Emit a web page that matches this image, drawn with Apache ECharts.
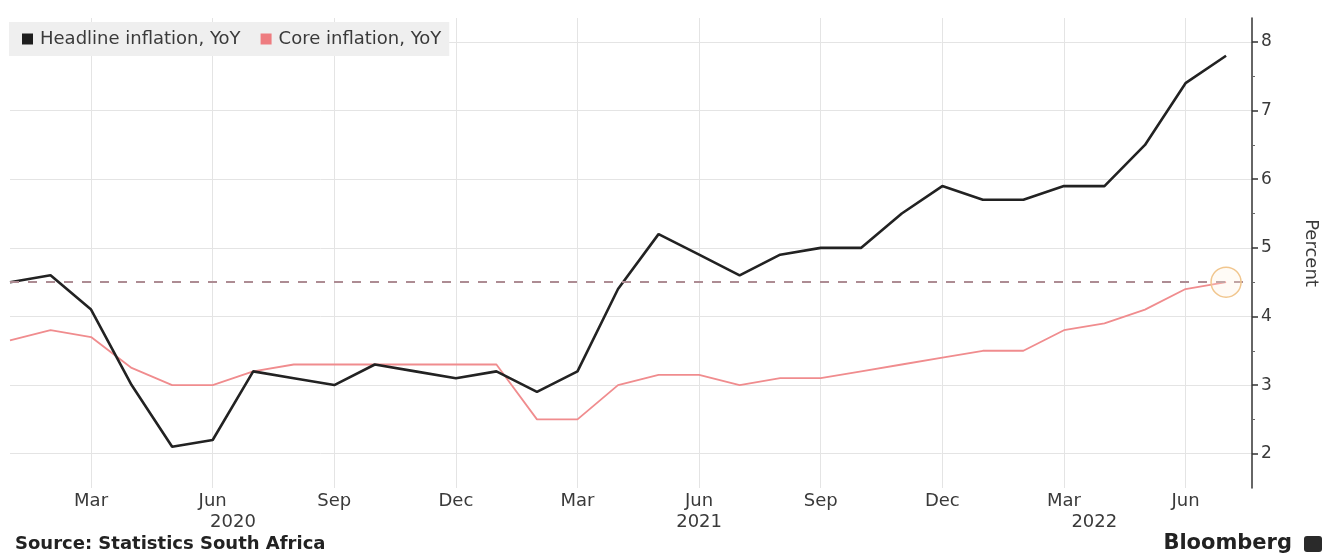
<!DOCTYPE html>
<html>
<head>
<meta charset="utf-8">
<script src="https://cdn.jsdelivr.net/npm/echarts@6/dist/echarts.min.js"></script>
<style>
html,body{margin:0;padding:0;background:#ffffff;}
#chart{width:1328px;height:554px;}
</style>
</head>
<body>
<div id="chart"></div>
<script>
// ---- Data (monthly, Jan 2020 .. Jul 2022) ----
const months = ['Jan 2020','Feb 2020','Mar 2020','Apr 2020','May 2020','Jun 2020','Jul 2020','Aug 2020','Sep 2020','Oct 2020','Nov 2020','Dec 2020',
                'Jan 2021','Feb 2021','Mar 2021','Apr 2021','May 2021','Jun 2021','Jul 2021','Aug 2021','Sep 2021','Oct 2021','Nov 2021','Dec 2021',
                'Jan 2022','Feb 2022','Mar 2022','Apr 2022','May 2022','Jun 2022','Jul 2022'];
const headline = [4.5,4.6,4.1,3.0,2.1,2.2,3.2,3.1,3.0,3.3,3.2,3.1,
                  3.2,2.9,3.2,4.4,5.2,4.9,4.6,4.9,5.0,5.0,5.5,5.9,
                  5.7,5.7,5.9,5.9,6.5,7.4,7.8];
const core = [3.65,3.8,3.7,3.25,3.0,3.0,3.2,3.3,3.3,3.3,3.3,3.3,
              3.3,2.5,2.5,3.0,3.15,3.15,3.0,3.1,3.1,3.2,3.3,3.4,
              3.5,3.5,3.8,3.9,4.1,4.4,4.5];
const seriesNames = ['Headline inflation, YoY','Core inflation, YoY'];
const tickIndex = [2,5,8,11,14,17,20,23,26,29];
const tickLabels = ['Mar','Jun','Sep','Dec','Mar','Jun','Sep','Dec','Mar','Jun'];
const yearIndex = [5.5,17.0,26.75];
const yearLabels = ['2020','2021','2022'];
const yTicks = [2,3,4,5,6,7,8];
const yMinorTicks = [2.5,3.5,4.5,5.5,6.5,7.5];
const targetLevel = 4.5;
const highlightIndex = 30;

const FONT = 'DejaVu Sans';
const chart = echarts.init(document.getElementById('chart'), null, {renderer:'canvas'});

function labelFor(vals, labels){
  return function(v){
    for (let i=0;i<vals.length;i++){ if (Math.abs(vals[i]-v)<1e-6) return labels[i]; }
    return '';
  };
}

const option = {
  backgroundColor:'#ffffff',
  animation:false,
  grid:{left:10,right:74,top:18,bottom:66,containLabel:false},
  legend:{
    left:9, top:22, padding:[8,8,8,13],
    backgroundColor:'#efefef',
    icon:'rect', itemWidth:11, itemHeight:11, itemGap:20,
    textStyle:{fontFamily:FONT,fontSize:18,color:'#3a3a3a',padding:[0,0,0,2]},
    data:seriesNames
  },
  xAxis:[{
    type:'value', min:0, max:30.64,
    axisLine:{show:false,onZero:false},
    axisTick:{show:false, customValues:tickIndex},
    splitLine:{show:true,lineStyle:{color:'#e4e4e4',width:1}},
    axisLabel:{customValues:tickIndex, formatter:labelFor(tickIndex,tickLabels),
      fontFamily:FONT,fontSize:18,color:'#3a3a3a',margin:4}
  },{
    type:'value', min:0, max:30.64, position:'bottom',
    axisLine:{show:false,onZero:false},
    axisTick:{show:false, customValues:yearIndex},
    splitLine:{show:false},
    axisLabel:{customValues:yearIndex, formatter:labelFor(yearIndex,yearLabels),
      fontFamily:FONT,fontSize:18,color:'#3a3a3a',margin:25}
  }],
  yAxis:[{
    type:'value', position:'right', min:1.5, max:8.35,
    name:'Percent', nameLocation:'middle', nameRotate:-90, nameGap:50,
    nameTextStyle:{fontFamily:FONT,fontSize:18,color:'#3a3a3a'},
    axisLine:{show:true,onZero:false,lineStyle:{color:'#333333',width:1.5}},
    axisTick:{show:true,length:6,customValues:yTicks,lineStyle:{color:'#333333',width:1.5}},
    splitLine:{show:true,lineStyle:{color:'#e4e4e4',width:1}},
    axisLabel:{customValues:yTicks,fontFamily:FONT,fontSize:17,color:'#3a3a3a',margin:9}
  },{
    type:'value', position:'right', min:1.5, max:8.35,
    axisLine:{show:false,onZero:false},
    axisTick:{show:true,length:3,customValues:yMinorTicks,lineStyle:{color:'#666666',width:1}},
    splitLine:{show:false},
    axisLabel:{show:false}
  }],
  series:[{
    name:seriesNames[0], type:'line', xAxisIndex:0, yAxisIndex:0,
    data:headline.map((v,i)=>[i,v]),
    symbol:'none', color:'#1e1e1e',
    lineStyle:{color:'#222222',width:2.6},
    z:3
  },{
    name:seriesNames[1], type:'line', xAxisIndex:0, yAxisIndex:0,
    data:core.map((v,i)=>[i,v]),
    symbol:'none', color:'#ee7c80',
    lineStyle:{color:'#f08c8e',width:1.8},
    z:2,
    markLine:{
      silent:true, symbol:'none',
      label:{show:false},
      lineStyle:{color:'#ad8c93',type:[9,9],width:2.2},
      data:[{yAxis:targetLevel}]
    },
    markPoint:{
      silent:true,
      symbol:'circle', symbolSize:30,
      itemStyle:{color:'rgba(255,240,220,0.25)',borderColor:'#f1c68e',borderWidth:1.5},
      label:{show:false},
      data:[{coord:[highlightIndex, core[highlightIndex]]}]
    }
  }],
  graphic:[
    {type:'text', left:15, top:535,
     style:{text:'Source: Statistics South Africa', font:'bold 18px "DejaVu Sans"', fill:'#222222'}},
    {type:'text', right:36, top:533,
     style:{text:'Bloomberg', font:'bold 21px "DejaVu Sans"', fill:'#222222'}},
    {type:'rect', right:6, top:536, shape:{width:18,height:16,r:3}, style:{fill:'#2a2a2a'}}
  ]
};
chart.setOption(option);
</script>
</body>
</html>
